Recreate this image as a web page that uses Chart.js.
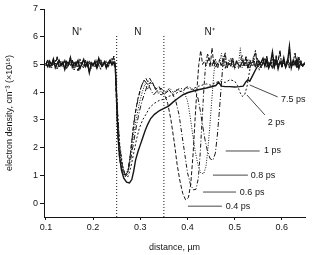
<!DOCTYPE html>
<html>
<head>
<meta charset="utf-8">
<script src="https://cdn.jsdelivr.net/npm/chart.js@4.4.1/dist/chart.umd.min.js"></script>
<style>
  html, body { margin: 0; padding: 0; background: #fff; }
  #grafico { display: block; }
</style>
</head>
<body>
<canvas id="grafico" width="312" height="255" style="width:312px;height:255px"></canvas>
<script>
// tick labels
const xTicks = [0.1, 0.2, 0.3, 0.4, 0.5, 0.6];
const yTicks = [0, 1, 2, 3, 4, 5, 6, 7];

// N+ region on the left: shared x grid, noisy density
const leftX = [0.100, 0.104, 0.108, 0.112, 0.116, 0.120, 0.124, 0.128, 0.132, 0.136,
  0.140, 0.144, 0.148, 0.152, 0.156, 0.160, 0.164, 0.168, 0.172, 0.176,
  0.180, 0.184, 0.188, 0.192, 0.196, 0.200, 0.204, 0.208, 0.212, 0.216,
  0.220, 0.224, 0.228, 0.232, 0.236, 0.240, 0.244];
const leftA = [5.05, 4.92, 5.12, 4.98, 5.20, 4.88, 5.03, 5.15, 4.95, 5.08,
  4.82, 5.10, 5.00, 5.25, 4.90, 5.06, 4.97, 5.14, 4.85, 5.02,
  5.18, 4.93, 5.07, 4.70, 5.04, 4.96, 5.12, 4.89, 5.22, 5.00,
  4.94, 5.10, 4.87, 5.05, 5.16, 4.98, 5.08];
const leftB = [4.95, 5.10, 4.88, 5.06, 4.97, 5.15, 4.84, 5.02, 5.12, 4.93,
  5.18, 4.90, 5.08, 4.96, 5.11, 4.80, 5.04, 4.92, 5.20, 4.99,
  4.87, 5.09, 4.95, 5.13, 4.86, 5.05, 4.91, 5.17, 4.98, 4.83,
  5.06, 5.01, 5.14, 4.94, 5.03, 5.21, 4.96];
const leftC = [5.00, 5.18, 4.94, 4.87, 5.09, 5.02, 5.28, 4.91, 5.05, 4.99,
  5.13, 4.86, 4.97, 5.07, 5.16, 4.93, 5.10, 4.78, 5.01, 5.09,
  4.95, 5.15, 4.90, 5.04, 5.11, 4.98, 5.06, 4.84, 5.02, 5.19,
  4.95, 5.08, 5.00, 4.89, 5.12, 5.04, 5.30];

// N+ region on the right
const rightX = [0.420, 0.424, 0.428, 0.432, 0.436, 0.440, 0.444, 0.448, 0.452, 0.456,
  0.460, 0.464, 0.468, 0.472, 0.476, 0.480, 0.484, 0.488, 0.492, 0.496,
  0.500, 0.504, 0.508, 0.512, 0.516, 0.520, 0.524, 0.528, 0.532, 0.536,
  0.540, 0.544, 0.548, 0.552, 0.556, 0.560, 0.564, 0.568, 0.572, 0.576,
  0.580, 0.584, 0.588, 0.592, 0.596, 0.600, 0.604, 0.608, 0.612, 0.616,
  0.620, 0.624, 0.628, 0.632, 0.636, 0.640, 0.644, 0.648];
const rightA = [4.95, 5.10, 4.88, 5.20, 5.55, 4.90, 5.05, 4.85, 5.15, 4.98,
  5.22, 4.80, 5.08, 5.40, 4.92, 5.12, 4.86, 5.18, 4.95, 5.25,
  4.82, 5.10, 4.97, 5.60, 4.88, 5.14, 4.93, 5.20, 4.85, 5.06,
  5.30, 4.90, 5.12, 4.78, 5.08, 5.22, 4.94, 5.16, 4.87, 5.05,
  5.45, 4.92, 5.18, 4.84, 5.10, 4.96, 5.24, 4.90, 5.07, 5.65,
  4.88, 5.14, 4.98, 5.20, 4.86, 5.08, 4.95, 5.02];
const rightB = [5.05, 4.90, 5.18, 4.96, 5.08, 5.45, 4.85, 5.12, 4.94, 5.20,
  4.88, 5.06, 5.15, 4.92, 5.30, 4.86, 5.10, 4.98, 5.22, 4.90,
  5.04, 5.16, 4.84, 5.12, 5.35, 4.95, 5.08, 4.88, 5.19, 5.00,
  4.92, 5.50, 4.96, 5.14, 4.89, 5.06, 5.24, 4.90, 5.10, 4.97,
  5.18, 4.86, 5.32, 4.99, 5.08, 4.92, 5.15, 4.88, 5.20, 5.02,
  4.94, 5.12, 5.40, 4.90, 5.06, 5.16, 4.92, 5.04];
const rightC = [4.92, 5.15, 5.02, 4.86, 5.12, 4.95, 5.25, 4.90, 5.60, 4.94,
  5.08, 4.85, 5.18, 4.98, 5.10, 5.42, 4.88, 5.06, 4.93, 5.20,
  4.87, 5.12, 5.00, 4.90, 5.16, 4.95, 5.28, 4.84, 5.09, 4.97,
  5.14, 4.90, 5.22, 5.03, 4.88, 5.10, 4.96, 5.30, 4.92, 5.06,
  4.85, 5.18, 4.99, 5.12, 5.50, 4.90, 5.05, 4.94, 5.20, 4.87,
  5.10, 4.97, 5.14, 4.89, 5.26, 5.00, 4.93, 5.08];

// N region for every time step: [distance um, density 1e18 cm-3]
const mid7_5ps = [[0.247, 4.9], [0.249, 4.2], [0.251, 3.2], [0.253, 2.4], [0.256, 1.7], [0.260, 1.2],
  [0.265, 0.9], [0.271, 0.76], [0.277, 0.73], [0.282, 0.85], [0.286, 1.15], [0.290, 1.55],
  [0.295, 1.85], [0.300, 2.1], [0.305, 2.35], [0.310, 2.6], [0.316, 2.85], [0.322, 3.05],
  [0.330, 3.2], [0.340, 3.33], [0.350, 3.42], [0.360, 3.5], [0.370, 3.65], [0.380, 3.78],
  [0.390, 3.9], [0.400, 3.98], [0.420, 4.08], [0.440, 4.15], [0.460, 4.24], [0.466, 4.36],
  [0.472, 4.22], [0.480, 4.2], [0.490, 4.2], [0.500, 4.19], [0.510, 4.2], [0.518, 4.22],
  [0.524, 4.38], [0.528, 4.45], [0.532, 4.4], [0.538, 4.6], [0.544, 4.8], [0.550, 4.98]];
const mid2ps = [[0.247, 5.0], [0.249, 4.3], [0.252, 3.3], [0.256, 2.2], [0.262, 1.4], [0.268, 1.0],
  [0.274, 0.95], [0.280, 1.3], [0.286, 1.8], [0.292, 2.3], [0.298, 2.7], [0.305, 3.0],
  [0.312, 3.2], [0.320, 3.45], [0.330, 3.6], [0.340, 3.7], [0.350, 3.75], [0.360, 3.85],
  [0.370, 3.9], [0.380, 4.0], [0.390, 4.05], [0.400, 4.15], [0.410, 4.1], [0.420, 4.2],
  [0.430, 4.25], [0.440, 4.3], [0.450, 4.25], [0.460, 4.35], [0.470, 4.4], [0.480, 4.35],
  [0.490, 4.45], [0.500, 4.4], [0.506, 4.25], [0.511, 4.0], [0.516, 3.85], [0.521, 3.9],
  [0.526, 4.2], [0.530, 4.6], [0.534, 5.0], [0.538, 5.1]];
const mid1ps = [[0.247, 5.0], [0.249, 4.2], [0.252, 3.2], [0.256, 2.1], [0.262, 1.35], [0.268, 1.02],
  [0.274, 1.15], [0.280, 1.6], [0.286, 2.2], [0.292, 2.8], [0.298, 3.3], [0.304, 3.7],
  [0.310, 4.0], [0.316, 4.3], [0.322, 4.1], [0.328, 3.9], [0.336, 4.05], [0.344, 3.9],
  [0.352, 4.0], [0.360, 4.1], [0.368, 3.95], [0.376, 4.05], [0.384, 4.15], [0.392, 4.1],
  [0.400, 4.2], [0.408, 4.15], [0.416, 4.05], [0.422, 3.8], [0.427, 3.35], [0.432, 2.8],
  [0.437, 2.3], [0.442, 1.9], [0.448, 1.6], [0.454, 1.55], [0.459, 1.8], [0.463, 2.4],
  [0.467, 3.2], [0.471, 4.1], [0.475, 5.0], [0.479, 5.35], [0.483, 5.0]];
const mid0_8ps = [[0.247, 5.0], [0.249, 4.1], [0.252, 3.0], [0.256, 2.0], [0.262, 1.3], [0.268, 1.0],
  [0.274, 1.2], [0.280, 1.8], [0.286, 2.5], [0.292, 3.1], [0.298, 3.6], [0.304, 4.0],
  [0.310, 4.3], [0.316, 4.1], [0.322, 4.35], [0.330, 4.2], [0.338, 3.95], [0.346, 4.1],
  [0.354, 4.0], [0.362, 4.15], [0.370, 4.0], [0.378, 4.1], [0.386, 4.05], [0.394, 3.95],
  [0.400, 3.7], [0.405, 3.2], [0.410, 2.6], [0.416, 1.9], [0.422, 1.4], [0.428, 1.1],
  [0.434, 1.05], [0.439, 1.3], [0.443, 1.9], [0.447, 2.7], [0.451, 3.6], [0.455, 4.5],
  [0.459, 5.2], [0.463, 5.0]];
const mid0_6ps = [[0.247, 5.0], [0.249, 4.0], [0.252, 2.8], [0.256, 1.8], [0.262, 1.2], [0.268, 0.98],
  [0.274, 1.15], [0.280, 1.9], [0.285, 2.7], [0.290, 3.3], [0.296, 3.8], [0.302, 4.2],
  [0.308, 4.45], [0.314, 4.3], [0.320, 4.5], [0.328, 4.25], [0.336, 4.05], [0.344, 4.15],
  [0.352, 3.95], [0.360, 4.05], [0.368, 3.95], [0.375, 3.7], [0.382, 3.2], [0.388, 2.5],
  [0.394, 1.8], [0.400, 1.1], [0.406, 0.7], [0.412, 0.48], [0.418, 0.5], [0.423, 0.9],
  [0.427, 1.8], [0.431, 3.0], [0.435, 4.2], [0.439, 5.1], [0.443, 5.4]];
const mid0_4ps = [[0.247, 4.9], [0.249, 3.8], [0.252, 2.5], [0.256, 1.6], [0.262, 1.1], [0.268, 0.95],
  [0.273, 1.05], [0.278, 1.6], [0.283, 2.4], [0.288, 3.1], [0.294, 3.7], [0.300, 4.1],
  [0.306, 4.35], [0.312, 4.5], [0.318, 4.3], [0.325, 4.4], [0.332, 4.1], [0.340, 4.2],
  [0.346, 4.0], [0.352, 3.9], [0.358, 3.6], [0.365, 3.0], [0.372, 2.2], [0.378, 1.4],
  [0.384, 0.8], [0.390, 0.35], [0.396, 0.12], [0.402, 0.2], [0.407, 0.7], [0.412, 1.8],
  [0.416, 3.0], [0.420, 4.1], [0.424, 5.0], [0.428, 5.5], [0.432, 5.0]];

// region borders and labels
const borders = [0.25, 0.35];
const borderTop = 6.1;
const regions = [[0.166, 6.17, 'N⁺'], [0.295, 6.17, 'N'], [0.447, 6.17, 'N⁺']];

// leader lines for the time labels: from, to, text position
const notes = [
  { text: '7.5 ps', from: [0.532, 4.26], to: [0.591, 3.83], at: [0.598, 3.72] },
  { text: '2 ps', from: [0.526, 3.90], to: [0.564, 3.18], at: [0.570, 2.92] },
  { text: '1 ps', from: [0.481, 1.88], to: [0.553, 1.88], at: [0.562, 1.88] },
  { text: '0.8 ps', from: [0.454, 1.01], to: [0.528, 1.01], at: [0.534, 1.01] },
  { text: '0.6 ps', from: [0.433, 0.40], to: [0.503, 0.40], at: [0.511, 0.40] },
  { text: '0.4 ps', from: [0.401, -0.11], to: [0.473, -0.11], at: [0.481, -0.11] }
];

const FONTE = '"Liberation Sans", Arial, Helvetica, sans-serif';
const PRETO = '#151515';

function montarCurva(esquerda, meio, direita) {
  const ultimoX = meio[meio.length - 1][0];
  const pontos = leftX.map((x, i) => ({ x, y: esquerda[i] }));
  meio.forEach(([x, y]) => pontos.push({ x, y }));
  rightX.forEach((x, i) => {
    if (x > ultimoX + 0.002) pontos.push({ x, y: direita[i] });
  });
  return pontos;
}

function serie(label, dados, dash, largura) {
  return {
    label,
    data: dados,
    borderColor: PRETO,
    borderWidth: largura,
    borderDash: dash,
    pointRadius: 0,
    tension: 0,
    fill: false
  };
}

const datasets = [
  serie('0.4 ps', montarCurva(leftA, mid0_4ps, rightC), [4, 2], 1),
  serie('0.6 ps', montarCurva(leftC, mid0_6ps, rightB), [4, 2, 1, 2], 1),
  serie('0.8 ps', montarCurva(leftB, mid0_8ps, rightA), [1, 1.5], 1),
  serie('1 ps', montarCurva(leftC, mid1ps, rightC), [5, 2, 1, 2], 1),
  serie('2 ps', montarCurva(leftB, mid2ps, rightB), [2, 2], 1),
  serie('7.5 ps', montarCurva(leftA, mid7_5ps, rightA), [], 1.4)
];

borders.forEach(b => {
  datasets.push(serie('border', [{ x: b, y: -0.5 }, { x: b, y: borderTop }], [1, 2], 1));
});

const anotacoes = {
  id: 'anotacoes',
  afterDatasetsDraw(chart) {
    const { ctx, scales: { x, y } } = chart;
    ctx.save();
    ctx.fillStyle = PRETO;
    ctx.strokeStyle = '#333';
    ctx.lineWidth = 0.9;
    ctx.textBaseline = 'middle';

    ctx.font = '10px ' + FONTE;
    ctx.textAlign = 'center';
    regions.forEach(([rx, ry, t]) => ctx.fillText(t, x.getPixelForValue(rx), y.getPixelForValue(ry)));

    ctx.font = '9px ' + FONTE;
    ctx.textAlign = 'left';
    notes.forEach(n => {
      ctx.beginPath();
      ctx.moveTo(x.getPixelForValue(n.from[0]), y.getPixelForValue(n.from[1]));
      ctx.lineTo(x.getPixelForValue(n.to[0]), y.getPixelForValue(n.to[1]));
      ctx.stroke();
      ctx.fillText(n.text, x.getPixelForValue(n.at[0]), y.getPixelForValue(n.at[1]));
    });
    ctx.restore();
  }
};

Chart.defaults.font.family = FONTE;
Chart.defaults.color = PRETO;

new Chart(document.getElementById('grafico'), {
  type: 'line',
  data: { datasets },
  plugins: [anotacoes],
  options: {
    responsive: false,
    animation: false,
    devicePixelRatio: 1,
    layout: { padding: { top: 9, right: 7, bottom: 0, left: 0 } },
    plugins: { legend: { display: false }, tooltip: { enabled: false } },
    scales: {
      x: {
        type: 'linear',
        min: 0.096,
        max: 0.649,
        afterBuildTicks: s => { s.ticks = xTicks.map(v => ({ value: v })); },
        afterFit: s => { s.height = 38; },
        ticks: { font: { size: 9 }, padding: 2, maxRotation: 0, callback: v => v.toFixed(1) },
        grid: { drawOnChartArea: false, drawTicks: true, tickLength: 3, color: PRETO },
        border: { display: true, color: PRETO, width: 1 },
        title: { display: true, text: 'distance, µm', font: { size: 9 }, padding: { top: 0, bottom: 2 } }
      },
      y: {
        type: 'linear',
        min: -0.5,
        max: 7,
        afterBuildTicks: s => { s.ticks = yTicks.map(v => ({ value: v })); },
        afterFit: s => { s.width = 44; },
        ticks: { font: { size: 9 }, padding: 2, callback: v => String(v) },
        grid: { drawOnChartArea: false, drawTicks: true, tickLength: 4, color: PRETO },
        border: { display: true, color: PRETO, width: 1 },
        title: { display: true, text: 'electron density, cm⁻³ (×10¹⁸)', font: { size: 9 }, padding: { top: 4, bottom: 0 } }
      }
    }
  }
});
</script>
</body>
</html>
